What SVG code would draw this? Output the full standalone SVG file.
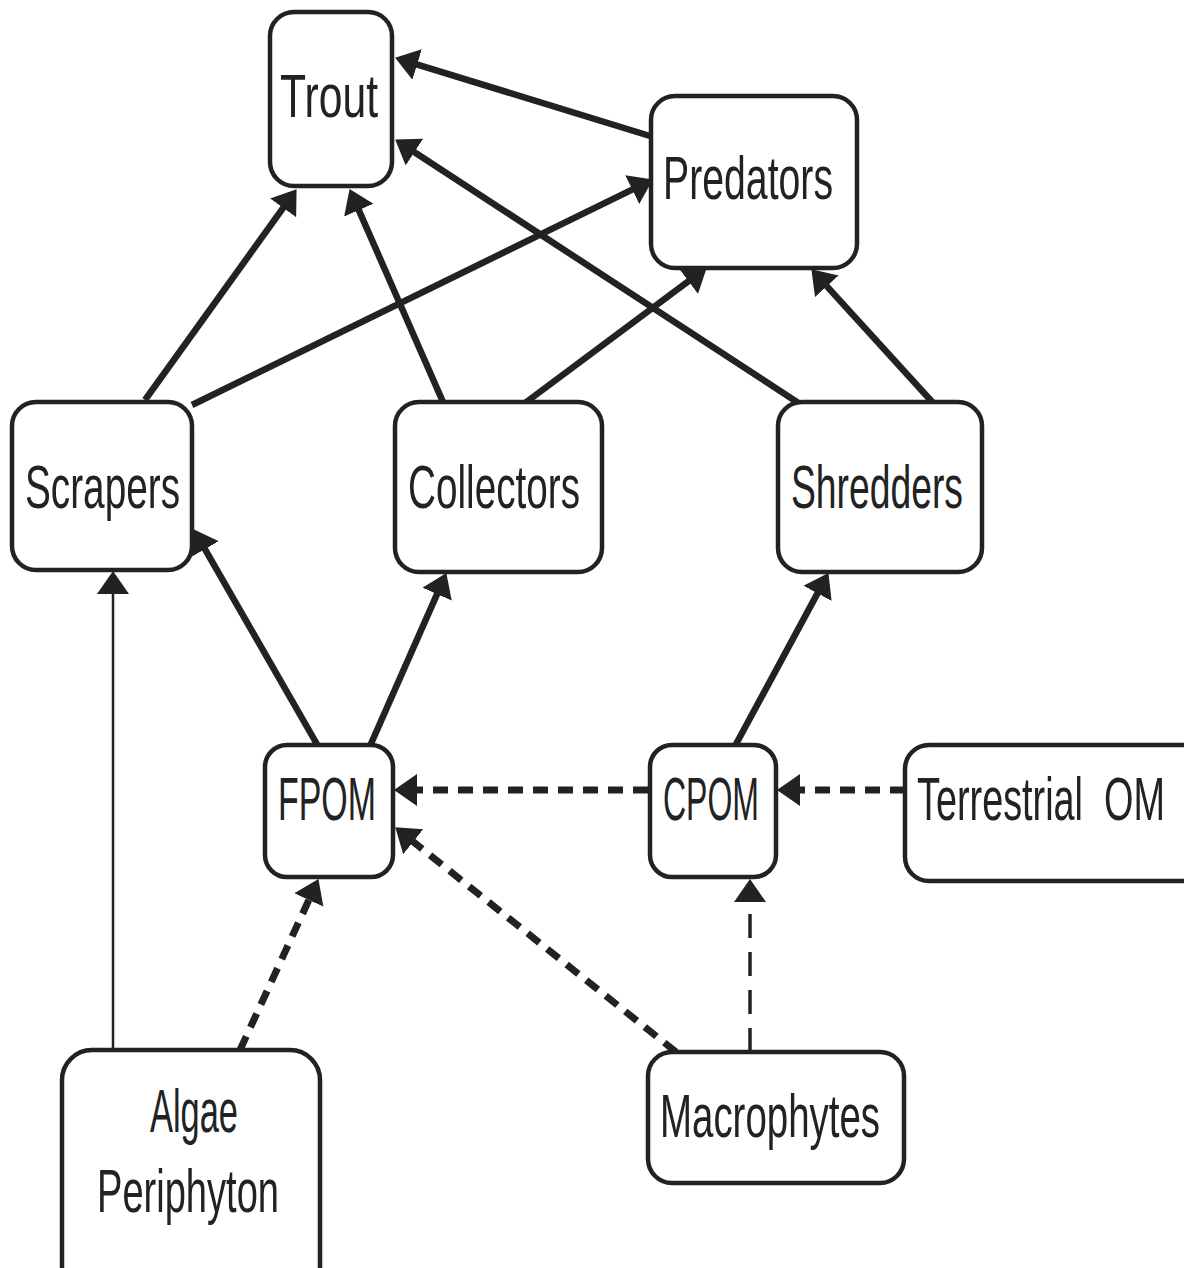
<svg xmlns="http://www.w3.org/2000/svg" width="1184" height="1268" viewBox="0 0 1184 1268">
<style>
.box{fill:#fff;stroke:#222;stroke-width:4.5}
.lbl{font-family:"Liberation Sans",Arial,sans-serif;font-size:61px;fill:#222}
.e{stroke:#222;stroke-width:6.5;fill:none;marker-end:url(#ah)}
.thin{stroke:#222;stroke-width:2.5;fill:none;marker-end:url(#ah)}
.d{stroke:#222;stroke-width:7;fill:none;stroke-dasharray:15 10;marker-end:url(#ah)}
.dt{stroke:#222;stroke-width:3.5;fill:none;stroke-dasharray:24 14;marker-end:url(#ah)}
</style>
<defs>
<marker id="ah" markerUnits="userSpaceOnUse" markerWidth="24" markerHeight="34" refX="9" refY="16" orient="auto" viewBox="0 0 24 32">
<path d="M0,0 L23,16 L0,32 z" fill="#222"/>
</marker>
</defs>
<rect width="1184" height="1268" fill="#fff"/>
<g id="connectors">
<line class="e" x1="650" y1="136" x2="408.5" y2="61.8"/>
<line class="e" x1="800" y1="404" x2="406.9" y2="147.2"/>
<line class="e" x1="145" y1="400" x2="288.4" y2="200.6"/>
<line class="e" x1="443" y1="402" x2="355.2" y2="201.9"/>
<line class="e" x1="192" y1="405" x2="640.3" y2="185.7"/>
<line class="e" x1="525" y1="403" x2="695.6" y2="275.8"/>
<line class="e" x1="935" y1="405" x2="820.8" y2="279.6"/>
<line class="e" x1="318" y1="746" x2="200.5" y2="541.3"/>
<line class="e" x1="370" y1="746" x2="440.7" y2="585.9"/>
<line class="thin" x1="113" y1="1050" x2="113" y2="585"/>
<line class="e" x1="735" y1="746" x2="821.8" y2="585.4"/>
<line class="d" x1="648" y1="790" x2="408" y2="790"/>
<line class="d" x1="905" y1="790" x2="791" y2="790"/>
<line class="d" x1="676" y1="1052" x2="406.2" y2="836.1"/>
<line class="d" x1="240" y1="1050" x2="312.6" y2="891.8"/>
<line class="dt" x1="750" y1="1052" x2="750" y2="893"/>
</g>
<g id="trout"><rect class="box" x="270" y="12" width="122" height="174" rx="24"/><text class="lbl" x="280" y="117" textLength="98" lengthAdjust="spacingAndGlyphs">Trout</text></g>
<g id="predators"><rect class="box" x="651" y="96" width="206" height="172" rx="24"/><text class="lbl" x="663" y="199" textLength="170" lengthAdjust="spacingAndGlyphs">Predators</text></g>
<g id="scrapers"><rect class="box" x="12" y="402" width="180" height="168" rx="24"/><text class="lbl" x="25" y="508" textLength="155" lengthAdjust="spacingAndGlyphs">Scrapers</text></g>
<g id="collectors"><rect class="box" x="395" y="402" width="207" height="170" rx="24"/><text class="lbl" x="408" y="508" textLength="172" lengthAdjust="spacingAndGlyphs">Collectors</text></g>
<g id="shredders"><rect class="box" x="778" y="402" width="204" height="170" rx="24"/><text class="lbl" x="791" y="508" textLength="172" lengthAdjust="spacingAndGlyphs">Shredders</text></g>
<g id="fpom"><rect class="box" x="265" y="745" width="128" height="132" rx="22"/><text class="lbl" x="278" y="820" textLength="98" lengthAdjust="spacingAndGlyphs">FPOM</text></g>
<g id="cpom"><rect class="box" x="650" y="745" width="126" height="132" rx="22"/><text class="lbl" x="663" y="820" textLength="96" lengthAdjust="spacingAndGlyphs">CPOM</text></g>
<g id="terrestrial"><rect class="box" x="905" y="745" width="310" height="136" rx="24"/><text class="lbl" transform="translate(917 820) scale(0.62 1)" x="0" y="0" xml:space="preserve">Terrestrial  OM</text></g>
<g id="algae"><rect class="box" x="62" y="1050" width="258" height="250" rx="30"/><text class="lbl" x="150" y="1132" textLength="88" lengthAdjust="spacingAndGlyphs">Algae</text><text class="lbl" x="97" y="1212" textLength="182" lengthAdjust="spacingAndGlyphs">Periphyton</text></g>
<g id="macrophytes"><rect class="box" x="648" y="1052" width="256" height="131" rx="24"/><text class="lbl" x="660" y="1137" textLength="220" lengthAdjust="spacingAndGlyphs">Macrophytes</text></g>
</svg>
